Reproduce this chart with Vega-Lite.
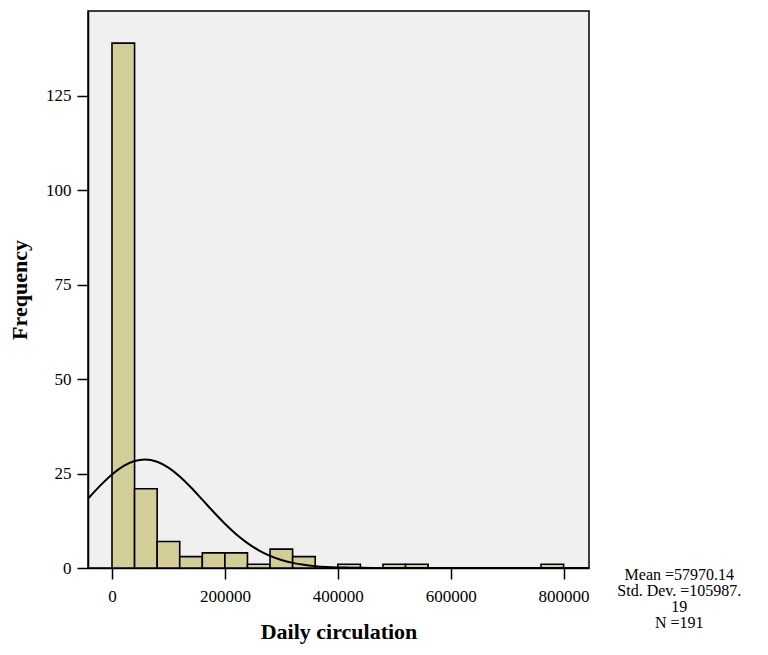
{
  "$schema": "https://vega.github.io/schema/vega-lite/v6.json",
  "width": 501,
  "height": 557,
  "autosize": {"type": "none"},
  "padding": {"left": 88, "top": 11, "right": 179, "bottom": 87},
  "background": "white",
  "config": {
    "font": "Liberation Serif",
    "view": {"fill": "#f0f0f0", "stroke": "#000000", "strokeWidth": 1.5},
    "axis": {
      "grid": false,
      "domainColor": "#000000",
      "domainWidth": 1.5,
      "tickColor": "#000000",
      "tickWidth": 1.5,
      "tickSize": 11,
      "labelFont": "Liberation Serif",
      "labelFontSize": 17,
      "labelColor": "#000000",
      "titleFont": "Liberation Serif",
      "titleFontSize": 22,
      "titleFontWeight": "bold",
      "titleColor": "#000000"
    }
  },
  "datasets": {
    "bins": [
      {"bin_start": 0, "bin_end": 40000, "count": 139},
      {"bin_start": 40000, "bin_end": 80000, "count": 21},
      {"bin_start": 80000, "bin_end": 120000, "count": 7},
      {"bin_start": 120000, "bin_end": 160000, "count": 3},
      {"bin_start": 160000, "bin_end": 200000, "count": 4},
      {"bin_start": 200000, "bin_end": 240000, "count": 4},
      {"bin_start": 240000, "bin_end": 280000, "count": 1},
      {"bin_start": 280000, "bin_end": 320000, "count": 5},
      {"bin_start": 320000, "bin_end": 360000, "count": 3},
      {"bin_start": 400000, "bin_end": 440000, "count": 1},
      {"bin_start": 480000, "bin_end": 520000, "count": 1},
      {"bin_start": 520000, "bin_end": 560000, "count": 1},
      {"bin_start": 760000, "bin_end": 800000, "count": 1}
    ],
    "curve": [
      {"x": -42500, "f": 18.349},
      {"x": -40000, "f": 18.759},
      {"x": -20000, "f": 21.940},
      {"x": 0, "f": 24.762},
      {"x": 20000, "f": 26.970},
      {"x": 40000, "f": 28.347},
      {"x": 57970, "f": 28.757},
      {"x": 80000, "f": 28.143},
      {"x": 100000, "f": 26.583},
      {"x": 120000, "f": 24.231},
      {"x": 140000, "f": 21.315},
      {"x": 160000, "f": 18.093},
      {"x": 180000, "f": 14.822},
      {"x": 200000, "f": 11.717},
      {"x": 220000, "f": 8.939},
      {"x": 240000, "f": 6.580},
      {"x": 260000, "f": 4.675},
      {"x": 280000, "f": 3.204},
      {"x": 300000, "f": 2.120},
      {"x": 320000, "f": 1.354},
      {"x": 340000, "f": 0.834},
      {"x": 360000, "f": 0.496},
      {"x": 380000, "f": 0.285},
      {"x": 400000, "f": 0.158},
      {"x": 420000, "f": 0.084},
      {"x": 440000, "f": 0.043},
      {"x": 460000, "f": 0.022},
      {"x": 480000, "f": 0.010},
      {"x": 500000, "f": 0.005},
      {"x": 540000, "f": 0.001},
      {"x": 600000, "f": 0.0},
      {"x": 845000, "f": 0.0}
    ],
    "stats": [
      {"label": "stats"}
    ]
  },
  "layer": [
    {
      "data": {"name": "bins"},
      "mark": {"type": "rect", "fill": "#d3ce98", "stroke": "#000000", "strokeWidth": 1.6},
      "encoding": {
        "x": {
          "field": "bin_start",
          "type": "quantitative",
          "scale": {"domain": [-42500, 845000], "nice": false, "zero": false},
          "axis": {
            "values": [0, 200000, 400000, 600000, 800000],
            "format": "d",
            "labelPadding": 9,
            "title": "Daily circulation",
            "titlePadding": 17
          }
        },
        "x2": {"field": "bin_end"},
        "y": {
          "field": "count",
          "type": "quantitative",
          "scale": {"domain": [0, 147.5], "nice": false},
          "axis": {
            "values": [0, 25, 50, 75, 100, 125],
            "labelPadding": 6,
            "title": "Frequency",
            "titlePadding": 14
          }
        },
        "y2": {"datum": 0}
      }
    },
    {
      "data": {"name": "curve"},
      "mark": {"type": "line", "color": "#000000", "strokeWidth": 2, "interpolate": "monotone", "clip": true},
      "encoding": {
        "x": {"field": "x", "type": "quantitative"},
        "y": {"field": "f", "type": "quantitative"}
      }
    },
    {
      "data": {"name": "stats"},
      "mark": {
        "type": "text",
        "text": ["Mean =57970.14", "Std. Dev. =105987.", "19", "N =191"],
        "font": "Liberation Serif",
        "fontSize": 16,
        "lineHeight": 16,
        "align": "center",
        "baseline": "middle",
        "color": "#000000",
        "clip": false
      },
      "encoding": {
        "x": {"datum": 1005000},
        "y": {"datum": -1.9}
      }
    }
  ]
}
